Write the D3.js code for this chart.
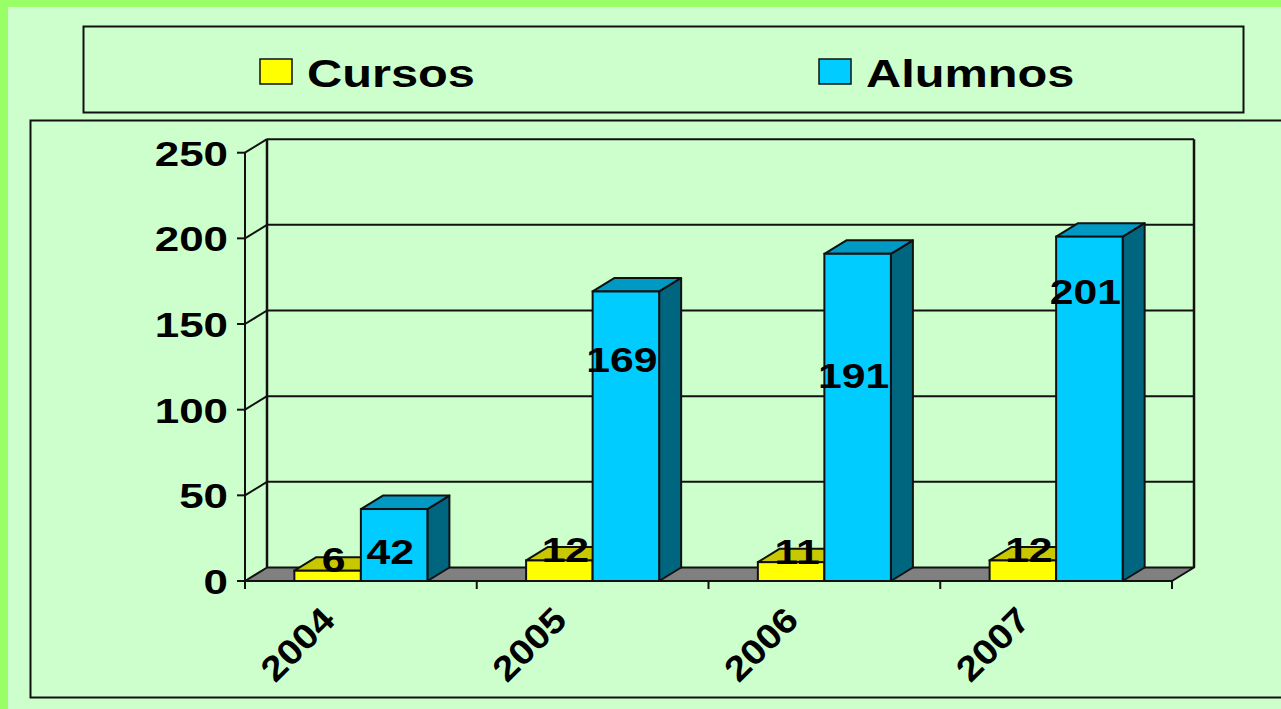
<!DOCTYPE html>
<html>
<head>
<meta charset="utf-8">
<script src="https://cdn.jsdelivr.net/npm/d3@7"></script>
<style>
html,body{margin:0;padding:0;background:#99FF66;overflow:hidden;}
svg{display:block;}
text{font-family:"Liberation Sans",Arial,sans-serif;font-weight:bold;fill:#000;}
</style>
</head>
<body>
<svg id="chart" width="1281" height="709"></svg>
<script>
// ---- data ----
const categories = ["2004", "2005", "2006", "2007"];
const seriesNames = ["Cursos", "Alumnos"];
const cursos = [6, 12, 11, 12];
const alumnos = [42, 169, 191, 201];
const yTicks = [0, 50, 100, 150, 200, 250];

// ---- layout ----
const W = 1281, H = 709;
const depthX = 22, depthY = -13.5;
const plotLeft = 245, plotRight = 1172, plotBottom = 581, plotTop = 152.7;
const alumnosLabelAt = [17, 129, 120, 169]; // label anchor height in value units
const colors = {
  Cursos: {front: "#FFFF00", top: "#C8C800", side: "#999900"},
  Alumnos: {front: "#00CCFF", top: "#0099C4", side: "#006680"}
};
const stretch = 1.22;

const svg = d3.select("#chart");
// panel background
svg.append("rect").attr("x", 8).attr("y", 7).attr("width", W).attr("height", H).attr("fill", "#CCFFCC");

// legend box
svg.append("rect").attr("x", 83.5).attr("y", 26.5).attr("width", 1160).attr("height", 86)
  .attr("fill", "none").attr("stroke", "#111").attr("stroke-width", 2);
// plot box
svg.append("rect").attr("x", 30.5).attr("y", 120.5).attr("width", 1300).attr("height", 577)
  .attr("fill", "none").attr("stroke", "#111").attr("stroke-width", 2);

const seriesValues = {Cursos: cursos, Alumnos: alumnos};

// legend
const legendX = d3.scalePoint().domain(seriesNames).range([260, 819]);
seriesNames.forEach(s => {
  const lx = legendX(s);
  svg.append("rect").attr("x", lx).attr("y", 59).attr("width", 32).attr("height", 25)
    .attr("fill", colors[s].front).attr("stroke", "#111").attr("stroke-width", 1.5);
  svg.append("text").attr("transform", `translate(${lx + 47},86.5) scale(1.25,1)`)
    .attr("font-size", 39).text(s);
});

// scales
const y = d3.scaleLinear().domain([0, 250]).range([plotBottom, plotTop]);
const x0 = d3.scaleBand().domain(categories).range([plotLeft, plotRight]).padding(0);
const x1 = d3.scaleBand().domain(seriesNames).range([0, x0.bandwidth()]).paddingInner(0).paddingOuter(0.742);

const g = svg.append("g");

// back wall gridlines and side wall diagonals
yTicks.forEach(t => {
  const yy = y(t);
  if (t > 0) {
    g.append("line").attr("x1", plotLeft + depthX).attr("x2", plotRight + depthX)
      .attr("y1", yy + depthY).attr("y2", yy + depthY).attr("stroke", "#111").attr("stroke-width", 2);
    g.append("line").attr("x1", plotLeft).attr("x2", plotLeft + depthX)
      .attr("y1", yy).attr("y2", yy + depthY).attr("stroke", "#111").attr("stroke-width", 2);
  }
});
// back wall verticals
[plotLeft + depthX, plotRight + depthX].forEach(xx => {
  g.append("line").attr("x1", xx).attr("x2", xx).attr("y1", y(250) + depthY).attr("y2", y(0) + depthY)
    .attr("stroke", "#111").attr("stroke-width", 2.5);
});

// floor
g.append("path")
  .attr("d", `M${plotLeft},${y(0)} L${plotRight},${y(0)} L${plotRight + depthX},${y(0) + depthY} L${plotLeft + depthX},${y(0) + depthY} Z`)
  .attr("fill", "#808080").attr("stroke", "#111").attr("stroke-width", 2).attr("stroke-linejoin", "round");

// y axis line & ticks
g.append("line").attr("x1", plotLeft).attr("x2", plotLeft).attr("y1", y(250)).attr("y2", y(0) + 8)
  .attr("stroke", "#111").attr("stroke-width", 2);
yTicks.forEach(t => {
  g.append("line").attr("x1", plotLeft - 8).attr("x2", plotLeft).attr("y1", y(t)).attr("y2", y(t))
    .attr("stroke", "#111").attr("stroke-width", 2);
  g.append("text").attr("transform", `translate(${plotLeft - 17},${y(t) + 13}) scale(${stretch},1)`)
    .attr("text-anchor", "end").attr("font-size", 36).text(t);
});
// x ticks
const boundaries = categories.map(c => x0(c)).concat([plotRight]);
boundaries.forEach(bx => {
  g.append("line").attr("x1", bx).attr("x2", bx).attr("y1", y(0)).attr("y2", y(0) + 8)
    .attr("stroke", "#111").attr("stroke-width", 2);
});
// front x axis edge
g.append("line").attr("x1", plotLeft).attr("x2", plotRight).attr("y1", y(0)).attr("y2", y(0))
  .attr("stroke", "#111").attr("stroke-width", 2);

// bars
function bar3d(sel, x, w, v, c) {
  const yt = y(v), yb = y(0);
  sel.append("path")
    .attr("d", `M${x + w},${yb} L${x + w + depthX},${yb + depthY} L${x + w + depthX},${yt + depthY} L${x + w},${yt} Z`)
    .attr("fill", c.side).attr("stroke", "#111").attr("stroke-width", 2).attr("stroke-linejoin", "round");
  sel.append("path")
    .attr("d", `M${x},${yt} L${x + depthX},${yt + depthY} L${x + w + depthX},${yt + depthY} L${x + w},${yt} Z`)
    .attr("fill", c.top).attr("stroke", "#111").attr("stroke-width", 2).attr("stroke-linejoin", "round");
  sel.append("rect").attr("x", x).attr("y", yt).attr("width", w).attr("height", yb - yt)
    .attr("fill", c.front).attr("stroke", "#111").attr("stroke-width", 2);
}

categories.forEach((cat, i) => {
  seriesNames.forEach(s => {
    const bx = x0(cat) + x1(s);
    bar3d(g, bx, x1.bandwidth(), seriesValues[s][i], colors[s]);
  });
});

// labels
categories.forEach((cat, i) => {
  const bw = x1.bandwidth();
  const cx = x0(cat) + x1("Cursos") + bw / 2 + 6;
  const cy = y(cursos[i]) - 11;
  g.append("text").attr("transform", `translate(${cx},${cy + 12.5}) scale(${stretch},1)`)
    .attr("text-anchor", "middle").attr("font-size", 35).text(cursos[i]);
  const ax = x0(cat) + x1("Alumnos") + bw / 2 - 4;
  const ay = y(alumnosLabelAt[i]);
  g.append("text").attr("transform", `translate(${ax},${ay + 12.5}) scale(${stretch},1)`)
    .attr("text-anchor", "middle").attr("font-size", 35).text(alumnos[i]);
});

// category labels
categories.forEach(cat => {
  const cx = x0(cat) + x0.bandwidth() / 2;
  g.append("text").attr("transform", `translate(${cx - 24},${y(0) + 41}) rotate(-45) scale(1.12,1)`)
    .attr("text-anchor", "end").attr("font-size", 35).text(cat);
});
</script>
</body>
</html>
